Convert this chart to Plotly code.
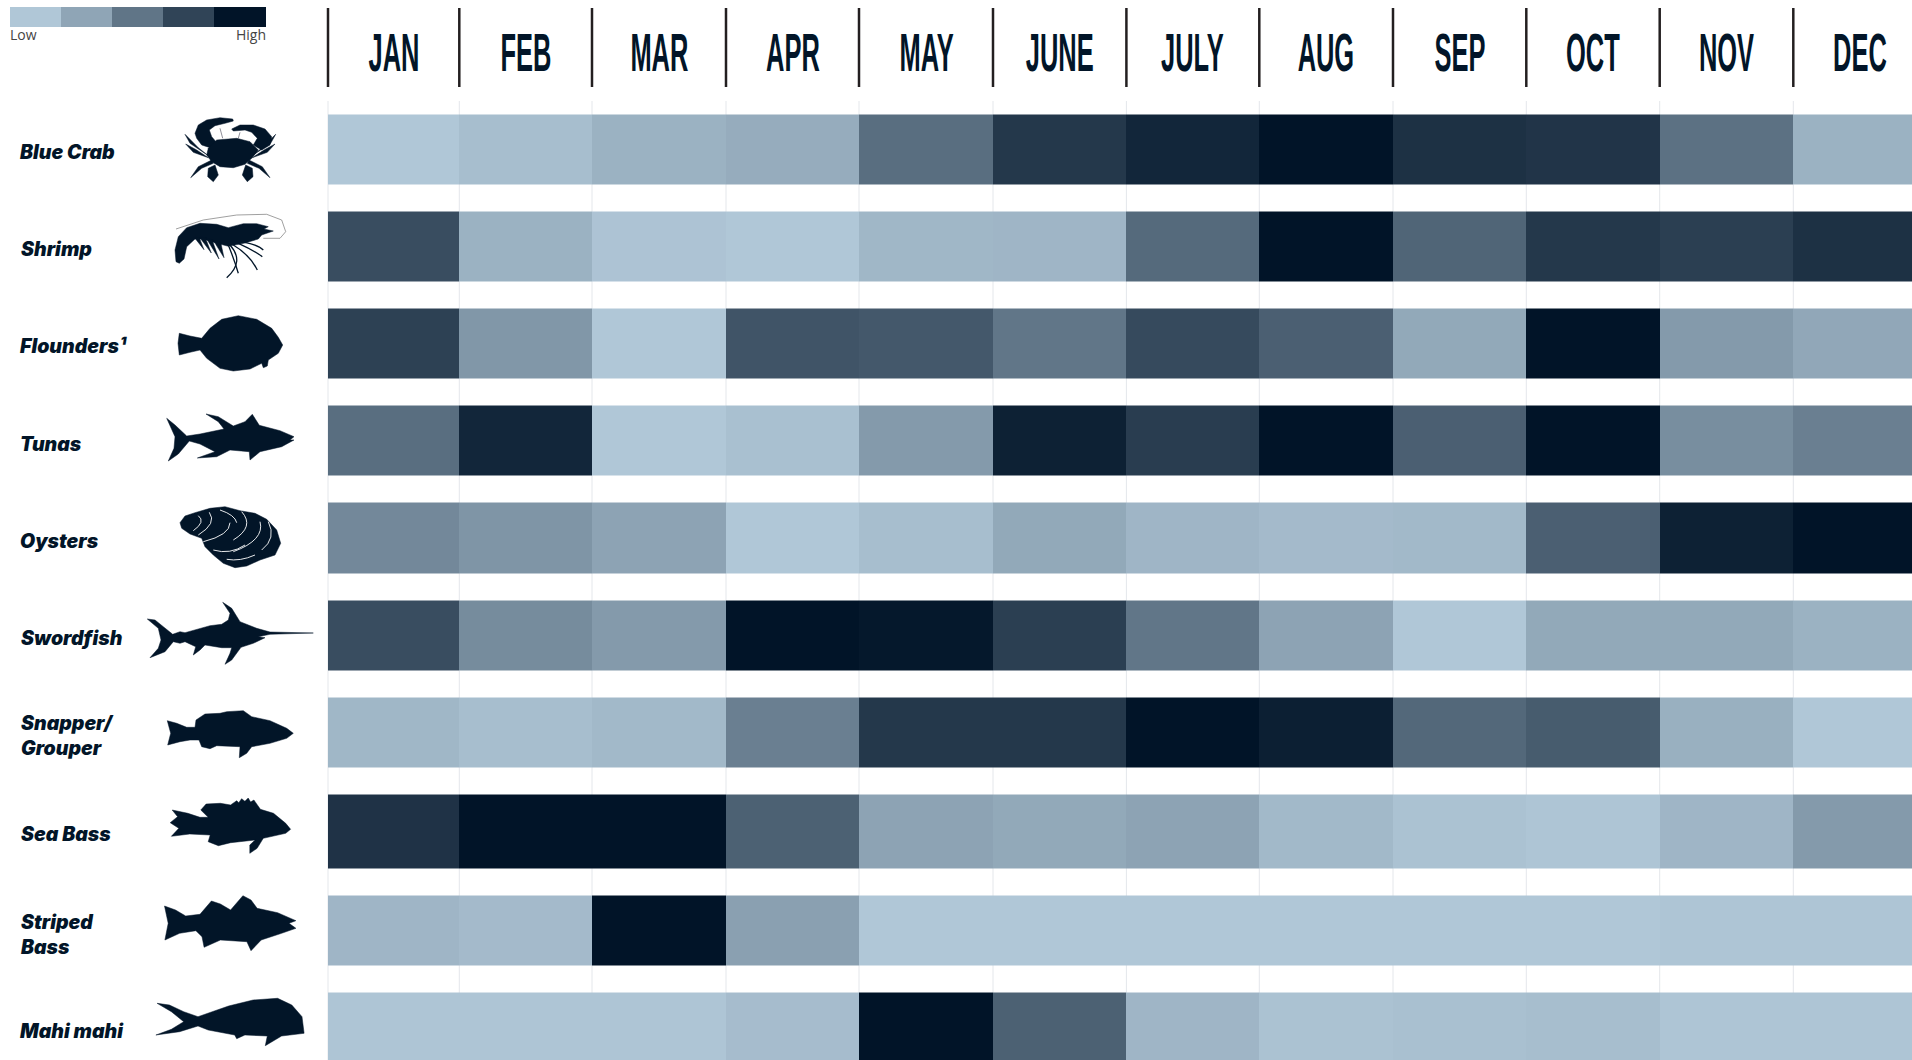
import plotly.graph_objects as go

months = ["JAN","FEB","MAR","APR","MAY","JUNE","JULY","AUG","SEP","OCT","NOV","DEC"]
species = ["Blue Crab","Shrimp","Flounders¹","Tunas","Oysters","Swordfish","Snapper/<br>Grouper","Sea Bass","Striped<br>Bass","Mahi mahi"]

blue_crab = [0,.05,.12,.15,.5,.8,.9,1,.84,.82,.48,.12]
shrimp    = [.68,.12,.02,0,.09,.1,.52,1,.55,.8,.76,.84]
flounders = [.75,.27,0,.64,.62,.45,.7,.58,.17,1,.25,.18]
tunas     = [.5,.9,0,.04,.25,.93,.77,1,.58,1,.32,.4]
oysters   = [.35,.28,.2,0,.05,.17,.1,.07,.08,.58,.93,1]
swordfish = [.68,.33,.25,1,.98,.76,.45,.2,0,.17,.17,.12]
snapper   = [.09,.05,.08,.4,.8,.8,1,.94,.53,.6,.13,0]
sea_bass  = [.83,1,1,.57,.2,.17,.2,.08,.03,.01,.1,.25]
striped   = [.1,.07,1,.22,0,0,0,0,0,0,.01,.01]
mahi      = [.01,.01,.01,.06,1,.57,.1,.03,.04,.05,.01,.01]
rows = [blue_crab,shrimp,flounders,tunas,oysters,swordfish,snapper,sea_bass,striped,mahi]
legend_vals = [0,.19,.46,.73,1]

DARK = "#021528"
# page-pixel layout
col_edges = [328,459.3,592,726,859,993,1126.4,1259.3,1393,1526.3,1659.7,1793.3,1927]
row_top = [114.5,211,308.5,405.3,502.6,600,697.5,794,895.3,992.7]
row_bot = [184,281.5,378,475.5,573,670.7,767,868.7,965.8,1075]
label_y = [152,249,346,444,541,638,735,834,934,1031]

y_edges, z = [], []
for i,r in enumerate(rows):
    y_edges += [row_top[i], row_bot[i]]
    z.append(r)
    if i < len(rows)-1:
        z.append([None]*12)

scale = [[0,"#b0c7d7"],[1,"#011428"]]
fig = go.Figure()
fig.add_trace(go.Heatmap(x=col_edges,y=y_edges,z=z,colorscale=scale,zmin=0,zmax=1,showscale=False,hoverongaps=False))
fig.add_trace(go.Heatmap(x=[10,61,112,163,214,266],y=[7,26.5],z=[legend_vals],colorscale=scale,zmin=0,zmax=1,showscale=False))

shapes, ann = [], []
for xe in col_edges[:12]:
    shapes.append(dict(type="line",x0=xe,x1=xe,y0=101,y1=1060,xref="x",yref="y",layer="below",line=dict(color="#e4e7eb",width=1)))
    shapes.append(dict(type="line",x0=xe,x1=xe,y0=8,y1=87,xref="x",yref="y",line=dict(color="#231f20",width=2.5)))

def poly(pts,ox,oy,sx,sy):
    return "M"+" L".join(f"{ox+x/sx:.1f},{oy+y/sy:.1f}" for x,y in pts)+" Z"
def opn(pts,ox,oy,sx,sy):
    return "M"+" L".join(f"{ox+x/sx:.1f},{oy+y/sy:.1f}" for x,y in pts)
def curve(pts,ox,oy,sx,sy):
    (a,b),(c,d),(e,f)=pts
    return f"M{ox+a/sx:.1f},{oy+b/sy:.1f} Q{ox+c/sx:.1f},{oy+d/sy:.1f} {ox+e/sx:.1f},{oy+f/sy:.1f}"
def fill(path):
    shapes.append(dict(type="path",path=path,xref="x",yref="y",fillcolor=DARK,line=dict(color=DARK,width=0.5)))
def stroke(path,color=DARK,w=1.0):
    shapes.append(dict(type="path",path=path,xref="x",yref="y",line=dict(color=color,width=w)))

Z2=(0,760,2.45,3); Z4=(130,480,3,3); Z5=(150,300,3,3); Z7=(170,105,3,3)

# crab
crab_legs = [
 [(45,88),(60,115),(115,152),(85,128),(62,105)],
 [(47,117),(70,142),(115,158),(80,135)],
 [(62,218),(85,185),(125,165),(130,175),(95,190)],
 [(115,190),(135,180),(145,210),(130,230),(113,215)],
]
for p in crab_legs:
    fill(poly(p,*Z7)); fill(poly([(362-x,y) for x,y in p],*Z7))
fill(poly([(75,85),(85,60),(110,45),(150,38),(188,42),(190,48),(165,55),(135,62),(118,75),(125,95),(142,115),(120,128),(95,120),(80,100)],*Z7))
fill(poly([(185,72),(210,60),(250,60),(285,72),(305,95),(300,120),(275,135),(250,120),(262,100),(245,82),(225,75),(190,78)],*Z7))
fill(poly([(115,130),(140,105),(200,100),(240,110),(265,135),(245,160),(225,178),(190,188),(150,185),(125,170),(110,150)],*Z7))
stroke(opn([(150,70),(158,100)],*Z7),"#445",0.6)
stroke(opn([(210,82),(205,100)],*Z7),"#445",0.6)
# shrimp
fill(poly([(18,470),(15,435),(25,395),(50,368),(90,355),(140,358),(175,368),(220,356),(260,356),(295,365),(282,372),(310,378),(275,390),(265,402),(225,414),(175,424),(130,412),(100,402),(75,402),(50,425),(42,462),(28,475)],*Z7))
for p in [[(72,396),(102,434),(88,398)],[(88,396),(124,444),(106,398)],[(108,398),(147,462),(126,404)],[(130,406),(162,458),(152,412)]]:
    fill(poly(p,*Z7))
stroke(opn([(18,372),(100,345),(200,330),(290,328),(335,345),(347,380),(330,400),(280,400)],*Z7),"#777777",0.7)
for c in [[(175,420),(195,470),(205,505)],[(180,420),(225,470),(170,518)],[(190,420),(240,450),(262,495)],[(205,415),(250,435),(277,455)],[(225,412),(265,420),(280,435)]]:
    stroke(curve(c,*Z7),DARK,1.3)
# flounder
fill(poly([(88,100),(120,108),(155,115),(180,85),(215,58),(265,47),(320,58),(365,85),(385,112),(398,135),(385,160),(355,180),(352,198),(340,203),(335,190),(300,207),(250,213),(210,205),(170,175),(150,150),(120,157),(88,165),(84,130)],*Z5))
# tuna
fill(poly([(50,355),(75,375),(110,408),(150,402),(222,387),(205,365),(168,342),(205,350),(250,378),(285,365),(307,343),(328,376),(390,392),(432,410),(420,420),(432,420),(395,440),(330,455),(322,462),(300,480),(298,455),(240,450),(200,470),(142,474),(195,455),(150,432),(118,423),(85,462),(55,483),(72,445),(75,410)],*Z5))
# oyster
fill(poly([(150,128),(165,108),(195,98),(240,85),(285,80),(330,92),(375,100),(410,118),(440,150),(452,190),(435,225),(390,240),(350,258),(315,263),(280,250),(250,225),(225,200),(215,175),(180,162),(155,145)],*Z4))
for c in [[(205,107),(228,125),(190,152)],[(238,97),(262,130),(205,165)],[(270,90),(315,105),(320,128)],[(335,95),(375,140),(310,180)],[(300,128),(300,165),(220,185)],[(390,125),(405,180),(310,215)],[(415,125),(440,175),(395,210)],[(345,195),(300,225),(250,210)],[(375,225),(330,245),(290,238)]]:
    stroke(curve(c,*Z4),"#ffffff",0.9)
# swordfish
fill(poly([(52,417),(75,420),(100,440),(128,463),(150,455),(165,458),(240,437),(275,433),(295,420),(300,400),(278,367),(305,385),(330,425),(380,445),(420,456),(550,459),(420,463),(385,470),(405,473),(370,490),(333,502),(305,540),(285,553),(300,520),(305,503),(275,503),(225,495),(210,510),(190,525),(197,500),(165,485),(150,490),(130,485),(105,515),(60,533),(85,505),(93,480),(85,445)],*Z4))
# snapper
fill(poly([(112,722),(140,730),(170,742),(195,742),(198,720),(225,702),(270,700),(290,695),(340,692),(365,710),(420,722),(470,745),(490,760),(470,775),(420,790),(365,800),(350,820),(328,833),(330,800),(260,797),(240,806),(215,800),(207,780),(180,780),(150,785),(113,795),(122,760)],*Z4))
# sea bass
fill(poly([(422,150),(460,160),(490,172),(510,172),(492,150),(505,132),(540,130),(565,135),(580,122),(585,128),(592,116),(600,124),(608,114),(614,126),(622,120),(638,148),(670,160),(700,190),(712,208),(700,220),(645,235),(630,265),(612,280),(612,255),(625,240),(565,248),(535,257),(510,245),(515,225),(465,222),(420,229),(438,205),(417,188),(435,170)],*Z2))
# striped bass
fill(poly([(403,438),(430,450),(455,468),(490,463),(518,423),(540,432),(565,450),(595,407),(615,420),(630,445),(680,458),(725,482),(708,490),(725,505),(690,520),(640,540),(615,572),(605,545),(540,540),(500,562),(495,530),(480,512),(440,520),(404,540),(412,490)],*Z2))
# mahi
fill(poly([(385,730),(415,735),(450,755),(485,770),(560,738),(620,720),(680,715),(715,735),(740,770),(745,820),(690,828),(650,857),(655,828),(600,825),(580,836),(575,825),(510,810),(485,798),(440,815),(382,825),(420,808),(450,785),(420,755)],*Z2))

for i,m in enumerate(months):
    ann.append(dict(x=(col_edges[i]+col_edges[i+1])/2,y=52,text=m,xref="x",yref="y",showarrow=False,
                    xanchor="center",yanchor="middle",
                    font=dict(family="Liberation Sans",size=53,color=DARK,weight=700)))
for s,y in zip(species,label_y):
    ann.append(dict(x=18,y=y,text=s,xref="x",yref="y",showarrow=False,xanchor="left",yanchor="middle",align="left",
                    font=dict(family="Inter",size=19.5,color=DARK,weight=900,style="italic")))
ann.append(dict(x=8,y=34,text="Low",xref="x",yref="y",showarrow=False,xanchor="left",yanchor="middle",font=dict(family="Open Sans",size=14,color="#444444",weight=400)))
ann.append(dict(x=268,y=34,text="High",xref="x",yref="y",showarrow=False,xanchor="right",yanchor="middle",font=dict(family="Open Sans",size=14,color="#444444",weight=400)))

fig.update_layout(width=1912,height=1060,margin=dict(l=0,r=0,t=0,b=0),
    paper_bgcolor="white",plot_bgcolor="rgba(0,0,0,0)",shapes=shapes,annotations=ann,
    xaxis=dict(range=[0,1912],visible=False,fixedrange=True),
    yaxis=dict(range=[1060,0],visible=False,fixedrange=True))

post = """
document.body.style.margin='0';document.body.style.overflow='hidden';
var M=%s;
document.querySelectorAll('text.annotation-text').forEach(function(t){
  if(M.indexOf(t.textContent)>=0){t.style.transformBox='fill-box';t.style.transformOrigin='center';t.style.transform='scaleX(0.48)';}
});
""" % (str(months))
fig.write_html("out.html",post_script=post,config=dict(displayModeBar=False))
